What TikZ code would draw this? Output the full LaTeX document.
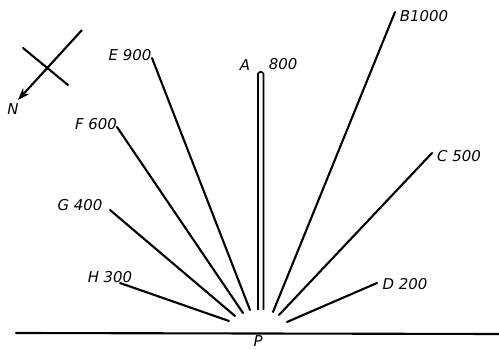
\documentclass[tikz,border=0pt]{standalone}
\usepackage{fontspec}
\setsansfont{DejaVu Sans}
\usetikzlibrary{positioning,arrows.meta}

\begin{document}
\begin{tikzpicture}[
    x=0.02cm, y=-0.02cm,
    ray/.style={line width=1.2pt, line cap=round},
    tag/.style={font=\sffamily\itshape\fontsize{8.5}{10}\selectfont, inner sep=1pt},
    pointer/.style={line width=1.2pt, -{Stealth[length=7pt,width=5pt]}}
]
\useasboundingbox (0,0) rectangle (499,350);

% Ground line and the point P
\coordinate (gl) at (16,333);
\coordinate (gr) at (499,334);
\draw[ray] (gl) -- (gr);
\node[tag] (p) at (258,341.5) {P};

% Outer ends of the rays
\coordinate (out-B) at (395,12);
\coordinate (out-C) at (432,153);
\coordinate (out-D) at (377,283);
\coordinate (out-E) at (152,58);
\coordinate (out-F) at (117,127);
\coordinate (out-G) at (110,210);
\coordinate (out-H) at (120,283);

% Inner ends near P
\coordinate (in-B) at (273,312);
\coordinate (in-C) at (279,315);
\coordinate (in-D) at (287,322);
\coordinate (in-E) at (250,310);
\coordinate (in-F) at (243,313);
\coordinate (in-G) at (235,316);
\coordinate (in-H) at (229,321);

% Rays
\foreach \n in {B,C,D,E,F,G,H}
    \draw[ray] (out-\n) -- (in-\n);

% Post at A
\draw[line width=0.9pt, rounded corners=1pt] (258,310) -- (258,72) -- (263.5,72) -- (263.5,310);

% Labels
\node[tag] (lblE) at (130,55) {E 900};
\node[tag] (lblA) at (245,65) {A};
\node[tag] (lblA800) at (283,64) {800};
\node[tag] (lblB) at (424,16) {B1000};
\node[tag] (lblC) at (459,156) {C 500};
\node[tag] (lblD) at (405,284) {D 200};
\node[tag] (lblF) at (96,124) {F 600};
\node[tag] (lblG) at (80,205) {G 400};
\node[tag] (lblH) at (110,277) {H 300};

% Compass
\coordinate (cmpA) at (82,30);
\coordinate (cmpB) at (18,100);
\coordinate (cmpC) at (23,48);
\coordinate (cmpD) at (68,85);
\draw[pointer] (cmpA) -- (cmpB);
\draw[ray] (cmpC) -- (cmpD);
\node[tag] (north) at (13,109) {N};
\end{tikzpicture}
\end{document}
